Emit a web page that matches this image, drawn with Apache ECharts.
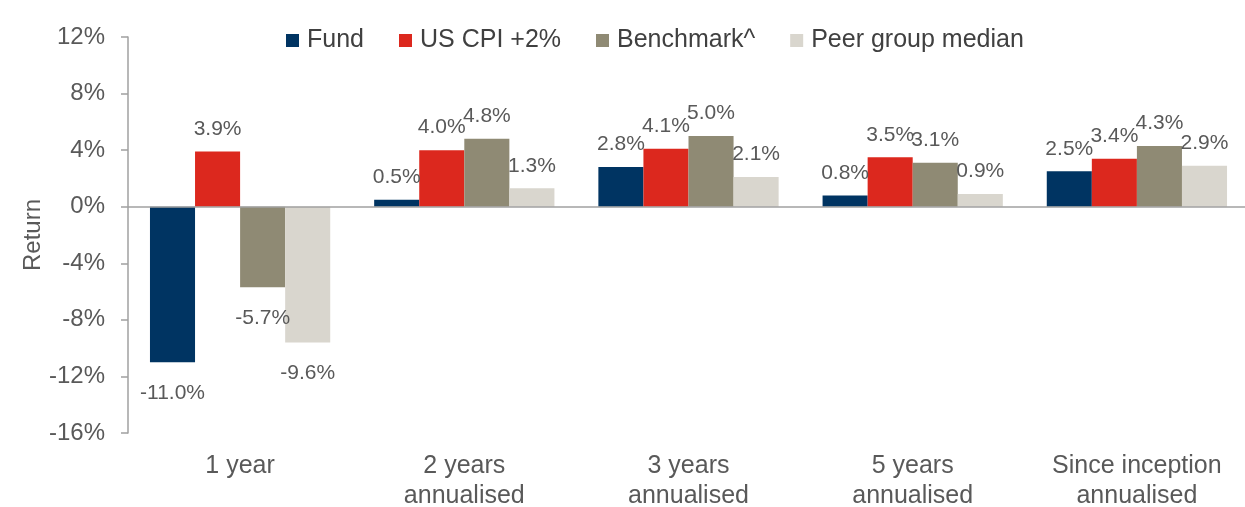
<!DOCTYPE html>
<html>
<head>
<meta charset="utf-8">
<script src="https://cdn.jsdelivr.net/npm/echarts@6/dist/echarts.min.js"></script>
<style>
html,body{margin:0;padding:0;background:#fff;}
#chart{width:1245px;height:507px;}
</style>
</head>
<body>
<div id="chart"></div>
<script>
const categories = ['1 year', '2 years\nannualised', '3 years\nannualised', '5 years\nannualised', 'Since inception\nannualised'];
const seriesNames = ['Fund', 'US CPI +2%', 'Benchmark^', 'Peer group median'];
const fund = [-11.0, 0.5, 2.8, 0.8, 2.5];
const cpi = [3.9, 4.0, 4.1, 3.5, 3.4];
const benchmark = [-5.7, 4.8, 5.0, 3.1, 4.3];
const peer = [-9.6, 1.3, 2.1, 0.9, 2.9];
const yTicks = [-16, -12, -8, -4, 0, 4, 8, 12];

const colors = ['#003462', '#DC281E', '#8F8A74', '#D9D6CE'];
const allValues = [fund, cpi, benchmark, peer];
const textColor = '#595959';
const font = 'Liberation Sans, Arial, sans-serif';

const series = allValues.map((vals, i) => ({
  name: seriesNames[i],
  type: 'bar',
  barGap: '0%',
  barCategoryGap: '19.6%',
  itemStyle: { color: colors[i] },
  data: vals.map(v => ({
    value: v,
    label: v < 0 ? { position: 'bottom', distance: 20 } : { position: 'top', distance: 12 }
  })),
  label: {
    show: true,
    color: textColor,
    fontFamily: font,
    fontSize: 21,
    formatter: p => p.value.toFixed(1) + '%'
  },
  markLine: i === 0 ? {
    silent: true,
    symbol: 'none',
    label: { show: false },
    lineStyle: { color: '#A0A0A0', type: 'solid', width: 1.5 },
    data: [{ yAxis: 0 }]
  } : undefined
}));

const chart = echarts.init(document.getElementById('chart'));
chart.setOption({
  animation: false,
  backgroundColor: '#fff',
  legend: {
    top: 23,
    left: 281,
    itemWidth: 13,
    itemHeight: 13,
    itemGap: 35,
    icon: 'rect',
    textStyle: { color: '#404040', fontFamily: font, fontSize: 25, padding: [0, 0, 0, 3] },
    data: seriesNames
  },
  grid: { left: 128, right: -4, top: 37, bottom: 74, containLabel: false, outerBoundsMode: 'none' },
  xAxis: {
    type: 'category',
    data: categories,
    axisLine: { show: false, onZero: false },
    axisTick: { show: false },
    axisLabel: {
      color: textColor,
      fontFamily: font,
      fontSize: 25,
      lineHeight: 30,
      margin: 18,
      interval: 0
    }
  },
  yAxis: {
    type: 'value',
    min: yTicks[0],
    max: yTicks[yTicks.length - 1],
    interval: 4,
    name: 'Return',
    nameLocation: 'middle',
    nameGap: 83,
    nameMoveOverlap: false,
    nameTextStyle: { color: textColor, fontFamily: font, fontSize: 24 },
    axisLine: { show: true, lineStyle: { color: '#A0A0A0', width: 1.5 } },
    axisTick: { show: true, length: 7, lineStyle: { color: '#A0A0A0', width: 1.5 } },
    splitLine: { show: false },
    axisLabel: {
      color: textColor,
      fontFamily: font,
      fontSize: 24,
      margin: 23,
      formatter: v => v + '%'
    }
  },
  series: series
});
</script>
</body>
</html>
